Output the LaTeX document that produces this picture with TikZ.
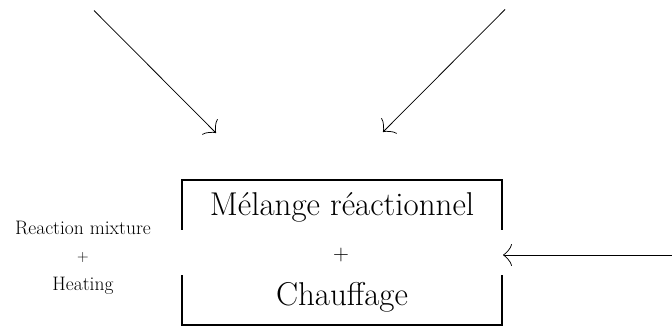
\documentclass[tikz,border=0pt]{standalone}
\usetikzlibrary{arrows.meta}
\tikzset{
  thinarrow/.style={line width=0.75pt, arrows={-Classical TikZ Rightarrow[length=9pt,width=22pt,line width=0.75pt]}},
  boxline/.style={line width=1.6pt},
  bigtext/.style={font=\fontsize{33}{38}\selectfont, inner sep=0pt, anchor=base},
  smalltext/.style={font=\fontsize{19.5}{23}\selectfont, inner sep=0pt, anchor=base},
}
\begin{document}
\begin{tikzpicture}[x=1pt,y=-1pt]
\useasboundingbox (0,0) rectangle (672,327);
% frame node
\node[minimum width=320pt, minimum height=145pt, inner sep=0pt] (box) at (342,252.5) {};
% texts in box
\node[bigtext] (m1) at (342,215) {Mélange réactionnel};
\node[font=\fontsize{22}{24}\selectfont, inner sep=0pt] (pl) at (341,255) {+};
\node[bigtext] (m2) at (342,305) {Chauffage};
% box borders
\draw[boxline] ([yshift=-50pt]box.north west) -- (box.north west) -- (box.north east) -- ([yshift=-50pt]box.north east);
\draw[boxline] ([yshift=50pt]box.south west) -- (box.south west) -- (box.south east) -- ([yshift=50pt]box.south east);
% left texts
\node[smalltext] (l1) at (83,234) {Reaction mixture};
\node[font=\fontsize{16}{18}\selectfont, inner sep=0pt] (l2) at (83,258) {+};
\node[smalltext] (l3) at (83,290) {Heating};
% arrows
\coordinate (a1s) at (94,10.5);
\coordinate (a1e) at (216,133);
\coordinate (a2s) at (505,9.5);
\coordinate (a2e) at (383,132);
\coordinate (a3s) at (672,255);
\coordinate (a3e) at (503,255);
\draw[thinarrow] (a1s) -- (a1e);
\draw[thinarrow] (a2s) -- (a2e);
\draw[thinarrow] (a3s) -- (a3e);
\end{tikzpicture}
\end{document}
